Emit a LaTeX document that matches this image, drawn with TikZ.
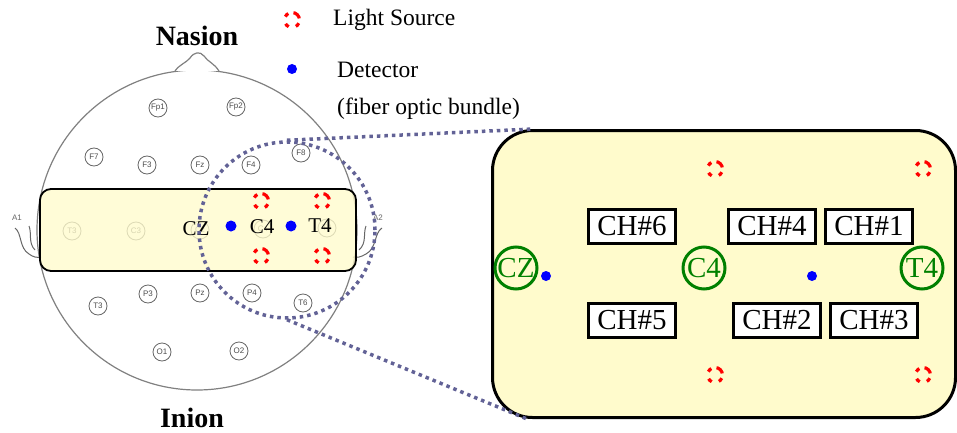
\documentclass[tikz,border=0pt]{standalone}
\usepackage{fontspec}
\setmainfont{Liberation Serif}
\setsansfont{Liberation Sans}
\usetikzlibrary{positioning}
\definecolor{bandyellow}{RGB}{255,251,204}
\definecolor{ringblue}{RGB}{98,98,150}
\definecolor{sitegreen}{RGB}{0,128,0}
\tikzset{electrode/.style={circle,draw=black!60,line width=0.8pt,minimum size=18pt,inner sep=0pt,font=\sffamily\fontsize{8}{8}\selectfont,text=black!70},
  source node/.style={circle,draw=red,line width=3.2pt,minimum size=15pt,inner sep=0pt,outer sep=0pt,
    dash pattern=on 8.6pt off 5.4pt on 4.3pt off 7.5pt on 4.3pt off 7.5pt on 4.3pt off 5.22pt,dash phase=45.52pt},
  detector node/.style={circle,fill=blue,minimum size=11pt,inner sep=0pt},
  site node/.style={circle,draw=sitegreen,line width=3pt,minimum size=42pt,inner sep=0pt,text=sitegreen,font=\fontsize{29}{29}\selectfont},
  channel node/.style={rectangle,draw,line width=3pt,fill=white,minimum width=87pt,minimum height=34pt,inner sep=0pt,font=\fontsize{29}{29}\selectfont},
  legend text/.style={font=\fontsize{23.5}{26}\selectfont,inner sep=0pt,anchor=west},}

\begin{document}
\begin{tikzpicture}[x=1pt,y=-1pt]
      \useasboundingbox (0,0) rectangle (957,433);

      % head, nose and ears
      \draw[black!50,line width=1.2pt] (197,230) circle[radius=160pt];
      \draw[black!50,line width=1.2pt,fill=white] (175,71) .. controls (180,64) and (186,63) .. (190,58) .. controls (194,52) and (200,51) .. (204,56) .. controls (208,62) and (214,63) .. (219,71);
      \draw[black!60,line width=1pt] (15,228) .. controls (22,233) and (19,248) .. (29,254) .. controls (33,257) and (37,258) .. (41,257);
      \draw[black!60,line width=1pt] (29,226) .. controls (32,233) and (28,243) .. (35,250);
      \draw[black!60,line width=1pt] (382,228) .. controls (374,233) and (377,248) .. (366,254) .. controls (361,257) and (357,258) .. (353,257);
      \draw[black!60,line width=1pt] (366,226) .. controls (363,233) and (367,243) .. (359,250);
      \node[font=\sffamily\fontsize{8}{8}\selectfont,text=black!60] (a1) at (17,218) {A1};
      \node[font=\sffamily\fontsize{8}{8}\selectfont,text=black!60] (a2) at (378,218) {A2};

      % 10-20 electrodes
      \node[electrode] (fp1) at (158,108) {Fp1};
      \node[electrode] (fp2) at (236,107) {Fp2};
      \node[electrode] (f7) at (94,157) {F7};
      \node[electrode] (f3) at (147,165) {F3};
      \node[electrode] (fz) at (200,165) {Fz};
      \node[electrode] (f4) at (251,165) {F4};
      \node[electrode] (f8) at (301,153) {F8};
      \node[electrode] (t3) at (72,231) {T3};
      \node[electrode] (c3) at (136,231) {C3};
      \node[electrode] (cz) at (200,230) {Cz};
      \node[electrode] (c4) at (263,229) {C4};
      \node[electrode] (t4) at (327,228) {T4};
      \node[electrode] (t5) at (98,306) {T3};
      \node[electrode] (p3) at (148,294) {P3};
      \node[electrode] (pz) at (200,293) {Pz};
      \node[electrode] (p4) at (252,293) {P4};
      \node[electrode] (t6) at (303,303) {T6};
      \node[electrode] (o1) at (162,352) {O1};
      \node[electrode] (o2) at (239,351) {O2};

      % probe band over the central line
      \draw[line width=1.8pt,rounded corners=11pt,fill=bandyellow,fill opacity=0.78] (40,189) rectangle (356,271);
      \node[font=\fontsize{21}{21}\selectfont,inner sep=0pt] (czl) at (196,229) {CZ};
      \node[font=\fontsize{21}{21}\selectfont,inner sep=0pt] (c4l) at (262,227) {C4};
      \node[font=\fontsize{21}{21}\selectfont,inner sep=0pt] (t4l) at (320,226) {T4};
      \node[detector node] (d1) at (231,226) {};
      \node[detector node] (d2) at (291,226) {};
      \node[source node] (s1) at (261,201) {};
      \node[source node] (s2) at (322,201) {};
      \node[source node] (s3) at (261,256) {};
      \node[source node] (s4) at (322,256) {};

      % magnified probe layout
      \node[circle,draw=ringblue,line width=3.5pt,dash pattern=on 3.5pt off 4pt,minimum size=176pt] (ring) at (287,230) {};
      \node[rectangle,draw,line width=3pt,rounded corners=40pt,fill=bandyellow,minimum width=463pt,minimum height=287pt] (panel) at (724,274) {};
      \path[draw,ringblue,line width=3.5pt,dash pattern=on 3.5pt off 4pt]
        (ring.north) edge ([xshift=42pt]panel.north west)
        (ring.south) edge ([xshift=36pt]panel.south west);

      \node[site node] (bcz) at (516,268) {CZ};
      \node[site node] (bc4) at (704,268) {C4};
      \node[site node] (bt4) at (922,268) {T4};
      \node[detector node,minimum size=10pt] (bd1) at (546,276) {};
      \node[detector node,minimum size=10pt] (bd2) at (812,276) {};
      \node[source node] (bs1) at (715,169) {};
      \node[source node] (bs2) at (923,169) {};
      \node[source node] (bs3) at (715,375) {};
      \node[source node] (bs4) at (923,375) {};

      \node[channel node] (ch6) at (632,226) {CH\#6};
      \node[channel node] (ch4) at (772,226) {CH\#4};
      \node[channel node] (ch1) [right = 7pt of ch4] {CH\#1};
      \node[channel node] (ch5) at (632,320) {CH\#5};
      \node[channel node] (ch2) at (777,320) {CH\#2};
      \node[channel node] (ch3) [right = 7pt of ch2] {CH\#3};

      % legend
      \node[source node] (ls) at (292,20) {};
      \node[legend text] (lst) at (333,20) {Light Source};
      \node[detector node,minimum size=10pt] (ld) at (292,69) {};
      \node[legend text] (ldt) at (337,70) {Detector};
      \node[legend text] (lft) [below = 20pt of ldt.south west,anchor=north west] {(fiber optic bundle)};

      \node[font=\bfseries\fontsize{28}{28}\selectfont] (nasion) at (197,36) {Nasion};
      \node[font=\bfseries\fontsize{28}{28}\selectfont] (inion) at (192,418) {Inion};

    \end{tikzpicture}
\end{document}
